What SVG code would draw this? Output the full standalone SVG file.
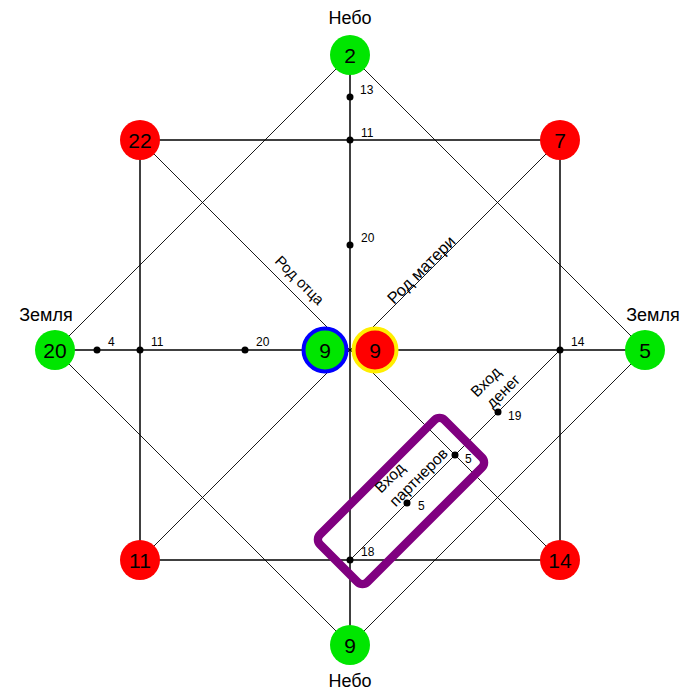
<svg xmlns="http://www.w3.org/2000/svg" width="700" height="700" viewBox="0 0 700 700">
<style>
.thick{stroke:#000;stroke-width:1.5;fill:none}
.thin{stroke:#000;stroke-width:0.9;fill:none}
.g{fill:#00e600}
.r{fill:#ff0000}
.num{font-family:"Liberation Sans",Arial,sans-serif;font-size:21px;text-anchor:middle;fill:#000}
.sm{font-family:"Liberation Sans",Arial,sans-serif;font-size:12px;fill:#000}
.lbl{font-family:"Liberation Sans",Arial,sans-serif;font-size:18px;text-anchor:middle;fill:#000}
.rot{font-family:"Liberation Sans",Arial,sans-serif;font-size:15.5px;fill:#000}
.dot{fill:#000}
</style>
<rect width="700" height="700" fill="#fff"/>
<g id="connectors">
<line class="thin" x1="350" y1="55" x2="55" y2="350"/>
<line class="thin" x1="350" y1="55" x2="645" y2="350"/>
<line class="thin" x1="55" y1="350" x2="350" y2="645"/>
<line class="thin" x1="645" y1="350" x2="350" y2="645"/>
<line class="thin" x1="140" y1="140" x2="560" y2="560"/>
<line class="thin" x1="560" y1="140" x2="140" y2="560"/>
<line class="thin" x1="560" y1="350" x2="350" y2="560"/>
<line class="thick" x1="140" y1="140" x2="560" y2="140"/>
<line class="thick" x1="140" y1="560" x2="560" y2="560"/>
<line class="thick" x1="140" y1="140" x2="140" y2="560"/>
<line class="thick" x1="560" y1="140" x2="560" y2="560"/>
<line class="thick" x1="350" y1="55" x2="350" y2="645"/>
<line class="thick" x1="55" y1="350" x2="645" y2="350"/>
</g>
<g id="highlight">
<rect x="-88" y="-33.5" width="176" height="67" rx="7" transform="translate(401,501) rotate(-45)" fill="none" stroke="#800080" stroke-width="8.5"/>
</g>
<g id="points">
<circle class="dot" cx="350" cy="97" r="3.5"/><text class="sm" x="360" y="94">13</text>
<circle class="dot" cx="350" cy="140" r="3.5"/><text class="sm" x="361" y="137">11</text>
<circle class="dot" cx="350" cy="245" r="3.5"/><text class="sm" x="361" y="242">20</text>
<circle class="dot" cx="97" cy="350" r="3.5"/><text class="sm" x="108" y="346">4</text>
<circle class="dot" cx="140" cy="350" r="3.5"/><text class="sm" x="151" y="346">11</text>
<circle class="dot" cx="245" cy="350" r="3.5"/><text class="sm" x="256" y="346">20</text>
<circle class="dot" cx="560" cy="350" r="3.5"/><text class="sm" x="571" y="346">14</text>
<circle class="dot" cx="498" cy="412" r="3.5"/><text class="sm" x="508" y="420">19</text>
<circle class="dot" cx="455" cy="455" r="3.5"/><text class="sm" x="465" y="463">5</text>
<circle class="dot" cx="407" cy="503" r="3.5"/><text class="sm" x="418" y="510">5</text>
<circle class="dot" cx="350" cy="560" r="3.5"/><text class="sm" x="361" y="556">18</text>
</g>
<g id="labels">
<text class="lbl" x="350" y="24">Небо</text>
<text class="lbl" x="350" y="687">Небо</text>
<text class="lbl" x="46" y="321">Земля</text>
<text class="lbl" x="653" y="321">Земля</text>
<text class="rot" style="font-size:15px" transform="translate(274,262) rotate(45)">Род отца</text>
<text class="rot" style="font-size:16.5px" transform="translate(394,305) rotate(-45)">Род матери</text>
<g transform="translate(477,398) rotate(-45)"><text class="rot" x="0" y="0">Вход</text><text class="rot" x="3" y="19">денег</text></g>
<g transform="translate(381,494) rotate(-45)"><text class="rot" x="0" y="0">Вход</text><text class="rot" x="1" y="20">партнеров</text></g>
</g>
<g id="node-top"><circle class="g" cx="350" cy="55" r="20"/><text class="num" x="350" y="62.5">2</text></g>
<g id="node-bottom"><circle class="g" cx="350" cy="645" r="20"/><text class="num" x="350" y="652.5">9</text></g>
<g id="node-left"><circle class="g" cx="55" cy="350" r="20"/><text class="num" x="55" y="357.5">20</text></g>
<g id="node-right"><circle class="g" cx="645" cy="350" r="20"/><text class="num" x="645" y="357.5">5</text></g>
<g id="node-tl"><circle class="r" cx="140" cy="140" r="20"/><text class="num" x="140" y="147.5">22</text></g>
<g id="node-tr"><circle class="r" cx="560" cy="140" r="20"/><text class="num" x="560" y="147.5">7</text></g>
<g id="node-bl"><circle class="r" cx="140" cy="560" r="20"/><text class="num" x="140" y="567.5">11</text></g>
<g id="node-br"><circle class="r" cx="560" cy="560" r="20"/><text class="num" x="560" y="567.5">14</text></g>
<g id="node-father"><circle class="g" cx="325" cy="350" r="21.5" stroke="#0000ff" stroke-width="4"/><text class="num" x="325" y="357.5">9</text></g>
<g id="node-mother"><circle class="r" cx="375" cy="350" r="21.5" stroke="#ffee00" stroke-width="4"/><text class="num" x="375" y="357.5">9</text></g>
</svg>
